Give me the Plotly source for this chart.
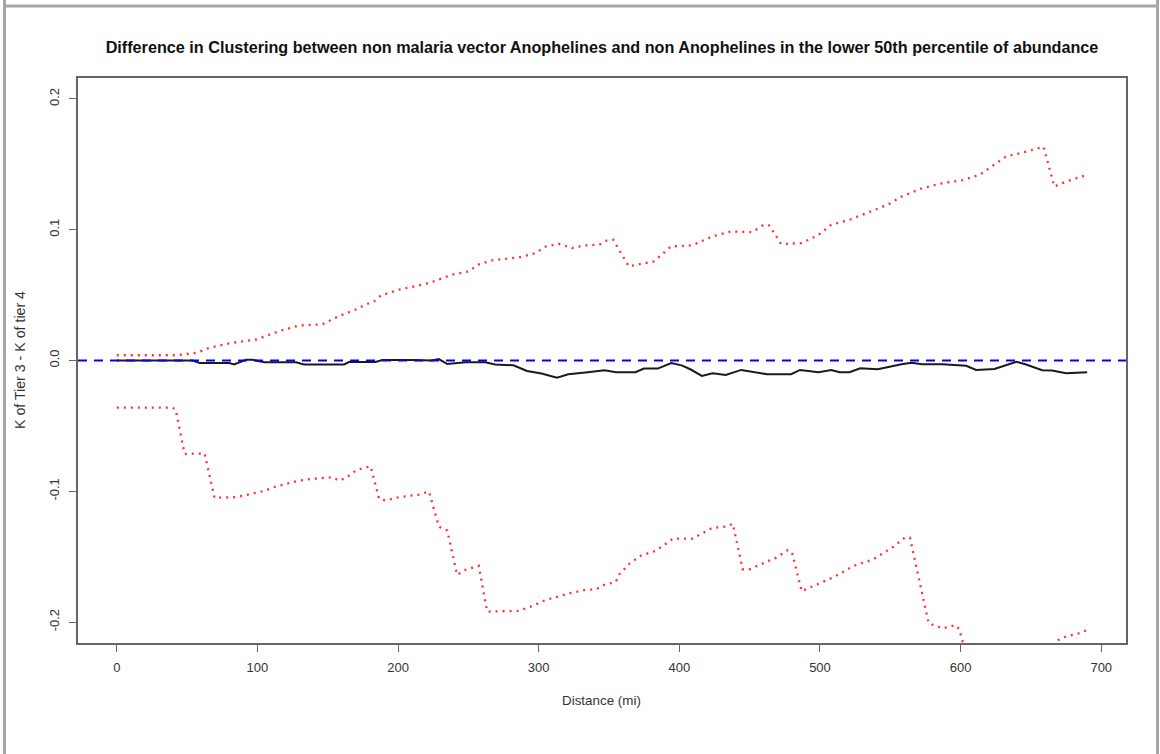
import plotly.graph_objects as go

# ---------------- data ----------------
obs_dist = [0, 54, 59, 80, 83.3, 91.9, 96.7, 105, 127.5, 133, 161.7, 165, 184, 188.8, 210, 215, 224, 229,
            235, 248, 262, 269, 282, 291.7, 302, 313, 321, 335, 346.7, 355, 368.8, 374.8, 384.6, 394.3,
            401.6, 407.8, 416, 423.6, 433, 444, 455, 462.4, 479.5, 485.8, 499, 508, 514, 521, 528.6, 541,
            558, 565, 572.6, 587, 604, 611, 624, 639.7, 646, 658, 665, 675, 690]
obs_diff = [0, 0, -0.002, -0.002, -0.003, 0.0005, 0.0005, -0.0014, -0.0014, -0.003, -0.003, -0.0012, -0.0012,
            0.0003, 0.0003, 0, 0, 0.0011, -0.0027, -0.0014, -0.0014, -0.003, -0.0037, -0.008, -0.010, -0.0131,
            -0.0105, -0.009, -0.0075, -0.009, -0.009, -0.0062, -0.0062, -0.0019, -0.0037, -0.0067, -0.0118,
            -0.0098, -0.011, -0.0072, -0.0093, -0.0105, -0.0105, -0.0072, -0.009, -0.0072, -0.009, -0.009,
            -0.006, -0.0067, -0.0029, -0.0017, -0.0029, -0.0029, -0.004, -0.0072, -0.0065, -0.0010, -0.0029,
            -0.0075, -0.0077, -0.0098, -0.009]

upper_dist = [0, 43, 57, 66, 82.5, 99, 106, 115.6, 129.8, 146, 158, 170, 177, 183, 187.7, 200.7, 215, 224,
              238.5, 250, 257, 267, 286, 297.6, 304.7, 314, 323.6, 333, 343, 348, 353, 364, 382, 394, 409,
              423.6, 437, 451.7, 460, 464, 472.4, 487, 499, 508, 521, 536, 548, 558, 572.6, 587, 602, 614,
              624, 632, 646, 659, 666.6, 675, 690]
upper_env = [0.004, 0.004, 0.006, 0.0098, 0.0136, 0.016, 0.0187, 0.0225, 0.0268, 0.0276, 0.034, 0.039,
             0.0428, 0.0453, 0.0497, 0.0542, 0.0575, 0.060, 0.0657, 0.068, 0.0733, 0.0766, 0.0789, 0.082,
             0.087, 0.0893, 0.086, 0.088, 0.0885, 0.0916, 0.0923, 0.072, 0.0758, 0.0872, 0.088, 0.0949,
             0.0987, 0.0981, 0.1038, 0.1032, 0.089, 0.0898, 0.096, 0.1038, 0.1076, 0.1139, 0.119, 0.1253,
             0.1317, 0.1355, 0.138, 0.1423, 0.1495, 0.1558, 0.1596, 0.1634, 0.133, 0.1368, 0.1420]

lower_dist = [0, 38.7, 41.8, 48.2, 62.4, 69.5, 84.9, 106, 110.9, 129.8, 139, 153.4, 158, 162.9, 171, 180.6,
              186.5, 190.8, 200.7, 215, 222, 229, 235, 242, 248, 257.4, 263.3, 285.8, 295.3, 304.7, 313,
              323, 332, 341, 346, 354.8, 357.4, 365, 373, 382.8, 388, 395.5, 409.5, 414.6, 423.4, 433.7,
              438, 445, 450, 459, 469, 477, 480, 487, 492, 510, 524, 538, 552, 560.3, 564, 577.3, 587.5,
              596.3, 599, 605, 620, 640, 660, 669.5, 675, 684, 690]
lower_env = [-0.036, -0.036, -0.0372, -0.0715, -0.071, -0.105, -0.1045, -0.0994, -0.097, -0.0918, -0.0905,
             -0.0893, -0.0918, -0.0898, -0.0834, -0.081, -0.1058, -0.107, -0.1045, -0.1025, -0.1002, -0.127,
             -0.130, -0.164, -0.160, -0.157, -0.192, -0.1914, -0.1878, -0.1832, -0.1807, -0.1777, -0.1756,
             -0.1749, -0.1718, -0.1693, -0.1634, -0.1548, -0.149, -0.1457, -0.142, -0.1362, -0.1362, -0.1332,
             -0.128, -0.1269, -0.1248, -0.1596, -0.1596, -0.1553, -0.1507, -0.1451, -0.1464, -0.1764,
             -0.1739, -0.1655, -0.157, -0.152, -0.1426, -0.1355, -0.1355, -0.201, -0.2048, -0.2023, -0.2056,
             -0.228, -0.235, -0.232, -0.224, -0.2137, -0.211, -0.2086, -0.2061]

x_ticks = [0, 100, 200, 300, 400, 500, 600, 700]
y_ticks = [-0.2, -0.1, 0.0, 0.1, 0.2]
y_tick_text = ["-0.2", "-0.1", "0.0", "0.1", "0.2"]

title_text = ("Difference in Clustering between non malaria vector Anophelines "
              "and non Anophelines in the lower 50th percentile of abundance")
x_title = "Distance (mi)"
y_title = "K of Tier 3 - K of tier 4"

# ---------------- figure ----------------
W, H = 1160, 754
L, R, T, B = 78, 34, 78, 111
pw, ph = W - L - R, H - T - B

FONT = "Liberation Sans, Arial, sans-serif"
TXT = "#333333"
AX = "#666666"

fig = go.Figure()
fig.add_trace(go.Scatter(x=obs_dist, y=obs_diff, mode="lines",
                         line=dict(color="#1a1a1a", width=2), hoverinfo="skip"))
fig.add_trace(go.Scatter(x=upper_dist, y=upper_env, mode="lines",
                         line=dict(color="#ff3030", width=2.3, dash="2px,5px"), hoverinfo="skip"))
fig.add_trace(go.Scatter(x=lower_dist, y=lower_env, mode="lines",
                         line=dict(color="#ff3030", width=2.3, dash="2px,5px"), hoverinfo="skip"))
fig.add_hline(y=0, line=dict(color="#0000ff", width=2, dash="9px,7px"))

def px_x(p):
    return (p - L) / pw

def px_y(p):
    return (H - B - p) / ph

# outer grey frame of the screenshot
frame = dict(color="#a6a6a6", width=3)
fig.add_shape(type="line", xref="paper", yref="paper", x0=px_x(4.5), x1=px_x(4.5),
              y0=px_y(0), y1=px_y(760), line=frame)
fig.add_shape(type="line", xref="paper", yref="paper", x0=px_x(1157.5), x1=px_x(1157.5),
              y0=px_y(0), y1=px_y(760), line=frame)
fig.add_shape(type="line", xref="paper", yref="paper", x0=px_x(3), x1=px_x(1159),
              y0=px_y(6), y1=px_y(6), line=frame)

axis_common = dict(showgrid=False, zeroline=False, showline=True, mirror=True,
                   linecolor=AX, linewidth=1.5, ticks="outside", ticklen=7, tickwidth=1.2,
                   tickcolor=AX, tickfont=dict(family=FONT, size=13, color=TXT))

fig.update_layout(
    width=W, height=H, autosize=False,
    margin=dict(l=L, r=R, t=T, b=B),
    paper_bgcolor="white", plot_bgcolor="white",
    showlegend=False,
    title=dict(text="<b>" + title_text + "</b>", x=px_x(602), xanchor="center", xref="paper",
               y=1 - 47 / H, yanchor="middle", yref="container",
               font=dict(family=FONT, size=16.2, color="#111111")),
    xaxis=dict(range=[-27.6, 717.6], tickvals=x_ticks, ticklabelstandoff=5, **axis_common),
    yaxis=dict(range=[-0.216, 0.216], tickvals=y_ticks, ticktext=y_tick_text, tickangle=-90,
               ticklabelstandoff=5, **axis_common),
    annotations=[
        dict(text=x_title, xref="paper", yref="paper", x=px_x(601), y=px_y(700),
             showarrow=False, xanchor="center", yanchor="middle",
             font=dict(family=FONT, size=13.4, color=TXT)),
        dict(text=y_title, xref="paper", yref="paper", x=px_x(20), y=px_y(360),
             showarrow=False, xanchor="center", yanchor="middle", textangle=-90,
             font=dict(family=FONT, size=14.2, color=TXT)),
    ],
)

fig.write_html("out.html")
